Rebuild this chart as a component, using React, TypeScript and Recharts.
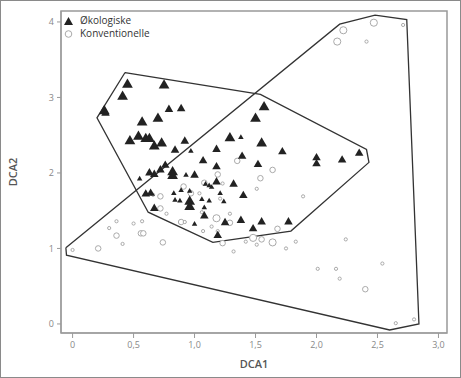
import React from 'react'
import { ScatterChart, Scatter, XAxis, YAxis, ZAxis, ReferenceArea, Legend, Label } from 'recharts'

// [DCA1, DCA2, size class 1..3]
const okologiske: [number, number, number][] = [
  [0.45, 3.17, 3], [0.75, 3.16, 3], [0.41, 3.01, 3], [0.26, 2.82, 3], [0.27, 2.79, 2],
  [0.79, 2.84, 2], [0.89, 2.85, 2], [0.57, 2.67, 3], [0.7, 2.72, 3], [0.47, 2.42, 3],
  [0.54, 2.48, 3], [0.6, 2.45, 3], [0.63, 2.45, 3], [0.67, 2.35, 3], [0.73, 2.39, 3],
  [0.92, 2.42, 2], [0.84, 2.3, 2], [0.97, 2.29, 1], [0.76, 2.1, 2], [0.63, 2.0, 2],
  [0.67, 1.98, 2], [0.72, 2.04, 2], [0.82, 2.01, 3], [0.82, 1.96, 3], [0.55, 1.92, 1],
  [0.93, 1.97, 1], [1.0, 1.97, 2], [1.07, 2.16, 2], [1.18, 2.31, 2], [1.18, 2.08, 2],
  [1.18, 1.88, 2], [1.29, 2.46, 3], [1.38, 2.47, 1], [1.39, 2.22, 2], [1.5, 2.72, 3],
  [1.57, 2.87, 3], [1.55, 2.39, 3], [1.52, 2.11, 2], [1.72, 2.28, 2], [2.0, 2.2, 2],
  [2.0, 2.12, 2], [2.21, 2.17, 2], [2.35, 2.26, 2], [1.32, 1.85, 2], [1.4, 1.7, 2],
  [1.21, 1.73, 1], [1.24, 1.62, 1], [1.14, 1.81, 1], [1.12, 1.83, 1], [1.09, 1.85, 1],
  [1.06, 1.65, 1], [1.12, 1.63, 1], [1.08, 1.54, 1], [1.08, 1.43, 2], [0.96, 1.62, 3],
  [0.96, 1.55, 3], [0.88, 1.63, 1], [0.83, 1.73, 1], [0.84, 1.64, 1], [0.89, 1.77, 1],
  [0.96, 1.76, 1], [0.6, 1.72, 2], [0.64, 1.73, 2], [0.67, 1.53, 2], [1.0, 1.32, 1],
  [1.25, 1.34, 2], [1.38, 1.37, 2], [1.48, 1.26, 2], [1.55, 1.35, 2], [1.77, 1.35, 2],
  [1.19, 1.17, 2],
]

const konventionelle: [number, number, number][] = [
  [0.0, 0.98, 1], [0.21, 1.0, 2], [0.3, 1.27, 1], [0.36, 1.36, 1], [0.36, 1.17, 2],
  [0.41, 1.06, 1], [0.5, 1.33, 1], [0.57, 1.36, 1], [0.56, 1.2, 2], [0.58, 1.2, 2],
  [0.74, 1.08, 2], [0.72, 1.53, 2], [0.77, 1.46, 1], [0.72, 1.69, 2], [0.66, 1.71, 1],
  [0.91, 1.82, 2], [0.89, 1.35, 2], [0.92, 1.35, 1], [0.97, 1.73, 2], [1.04, 1.73, 1],
  [1.08, 1.87, 2], [1.06, 1.48, 1], [1.07, 1.23, 1], [1.14, 1.29, 1], [1.18, 1.4, 3],
  [1.19, 1.23, 1], [1.19, 1.98, 2], [1.23, 1.86, 1], [1.23, 1.07, 2], [1.21, 1.66, 1],
  [1.29, 1.46, 1], [1.29, 1.34, 2], [1.32, 0.96, 1], [1.35, 2.16, 2], [1.42, 1.09, 1],
  [1.48, 1.14, 3], [1.51, 1.05, 1], [1.55, 1.12, 2], [1.54, 1.93, 2], [1.51, 1.79, 1],
  [1.64, 1.08, 3], [1.64, 2.04, 2], [1.68, 1.26, 2], [1.75, 1.0, 1], [1.83, 1.09, 1],
  [1.89, 1.69, 1], [2.01, 0.73, 1], [2.16, 0.73, 1], [2.19, 0.6, 1], [2.24, 1.12, 1],
  [2.54, 0.8, 1], [2.4, 0.46, 2], [2.65, 0.01, 1], [2.8, 0.06, 1], [2.17, 3.74, 3],
  [2.22, 3.89, 3], [2.41, 3.74, 1], [2.47, 3.99, 3], [2.71, 3.96, 1],
]

// convex hulls, closed
const hullOko: [number, number][] = [
  [0.43, 3.33], [1.54, 3.04], [2.41, 2.31], [2.43, 2.14], [1.79, 1.23],
  [1.15, 1.08], [0.62, 1.48], [0.2, 2.73], [0.43, 3.33],
]
const hullKonv: [number, number][] = [
  [-0.055, 1.01], [2.19, 3.97], [2.48, 4.09], [2.74, 4.03], [2.84, 0.0],
  [2.6, -0.08], [-0.05, 0.91], [-0.055, 1.01],
]

const xTicks = [0, 0.5, 1, 1.5, 2, 2.5, 3]
const yTicks = [0, 1, 2, 3, 4]
const legendLabels = ['Økologiske', 'Konventionelle']

const xDomain = [-0.095, 3.07]
const yDomain = [-0.12, 4.145]

const toPts = (rows: number[][]) => rows.map(([x, y, s]) => ({ x, y, s }))

const font = '"Open Sans", "DejaVu Sans", sans-serif'

function renderLegend() {
  return (
    <div style={{ fontFamily: font, fontSize: 10, color: '#333', lineHeight: '13px' }}>
      {legendLabels.map((label, i) => (
        <div key={label} style={{ display: 'flex', alignItems: 'center' }}>
          <svg width={11} height={10} style={{ marginRight: 6 }}>
            {i === 0 ? (
              <polygon points="5.5,1 10,9 1,9" fill="#222" />
            ) : (
              <circle cx={5.5} cy={5} r={3.3} fill="#fff" stroke="#aaa" />
            )}
          </svg>
          <span>{label}</span>
        </div>
      ))}
    </div>
  )
}

export default function App() {
  return (
    <div style={{ position: 'absolute', left: 0, top: 0, width: 461, height: 378, background: '#fff' }}>
      <ScatterChart width={461} height={378} margin={{ top: 11, right: 14, bottom: 5, left: 0 }}>
        <XAxis
          type="number"
          dataKey="x"
          domain={xDomain}
          ticks={xTicks}
          allowDataOverflow
          height={40}
          tickSize={5}
          tickMargin={4}
          stroke="#999"
          tick={{ fontSize: 9, fill: '#888', fontFamily: font }}
          tickFormatter={(v: number) => (v === 0 ? '0' : v.toFixed(1).replace('.', ','))}
        >
          <Label value="DCA1" position="insideBottom" offset={5} style={{ fontSize: 11, fontWeight: 600, fill: '#555', fontFamily: font }} />
        </XAxis>
        <YAxis
          type="number"
          dataKey="y"
          domain={yDomain}
          ticks={yTicks}
          allowDataOverflow
          width={61}
          tickSize={4}
          tickMargin={3}
          stroke="#999"
          tick={{ fontSize: 9, fill: '#888', fontFamily: font }}
        >
          <Label value="DCA2" angle={-90} position="insideLeft" offset={13} style={{ fontSize: 11, fontWeight: 600, fill: '#555', fontFamily: font, textAnchor: 'middle' }} />
        </YAxis>
        <ZAxis zAxisId="tri" type="number" dataKey="s" domain={[1, 3]} range={[13, 50]} />
        <ZAxis zAxisId="circ" type="number" dataKey="s" domain={[1, 3]} range={[8, 40]} />
        <ZAxis zAxisId="hull" type="number" dataKey="s" range={[1, 1]} />
        <ReferenceArea x1={xDomain[0]} x2={xDomain[1]} y1={yDomain[0]} y2={yDomain[1]} fill="none" stroke="#999" strokeWidth={1.5} />
        <Scatter
          name="hull-konv"
          data={hullKonv.map(([x, y]) => ({ x, y }))}
          zAxisId="hull"
          line={{ stroke: '#333', strokeWidth: 1.3 }}
          lineType="joint"
          shape={() => <g />}
          legendType="none"
          isAnimationActive={false}
        />
        <Scatter
          name="hull-oko"
          data={hullOko.map(([x, y]) => ({ x, y }))}
          zAxisId="hull"
          line={{ stroke: '#333', strokeWidth: 1.3 }}
          lineType="joint"
          shape={() => <g />}
          legendType="none"
          isAnimationActive={false}
        />
        <Scatter
          name="Konventionelle"
          data={toPts(konventionelle)}
          zAxisId="circ"
          shape="circle"
          fill="#fff"
          stroke="#aaa"
          strokeWidth={1}
          isAnimationActive={false}
        />
        <Scatter
          name="Økologiske"
          data={toPts(okologiske)}
          zAxisId="tri"
          shape="triangle"
          fill="#222"
          isAnimationActive={false}
        />
        <Legend
          layout="vertical"
          align="center"
          verticalAlign="middle"
          wrapperStyle={{ left: 63, top: 14, width: 'auto' }}
          content={renderLegend}
        />
      </ScatterChart>
      <div
        style={{
          position: 'absolute',
          left: 0,
          top: 0,
          width: 461,
          height: 378,
          boxSizing: 'border-box',
          border: '1.5px solid #8a8a8a',
          pointerEvents: 'none',
        }}
      />
    </div>
  )
}
